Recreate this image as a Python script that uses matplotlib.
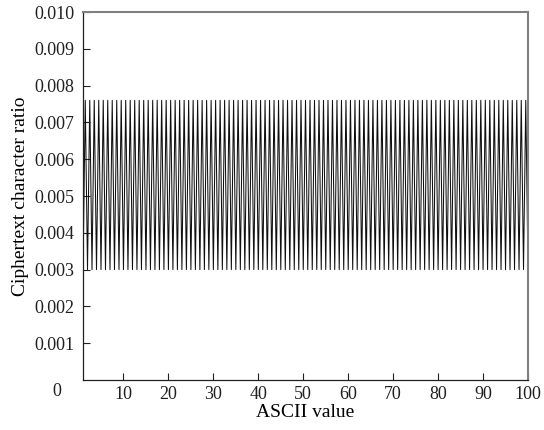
import numpy as np
import matplotlib.pyplot as plt
from matplotlib.ticker import FixedLocator, FormatStrFormatter

plt.rcParams['font.family'] = ['Liberation Serif', 'DejaVu Serif']

LOW = 0.0030
HIGH = 0.0076

# samples every half unit from 1 to 100, alternating low / high
ascii_vals = [1 + 0.5 * i for i in range(199)]
ratio = [
    LOW, HIGH, LOW, HIGH, LOW, HIGH, LOW, HIGH, LOW, HIGH, LOW, HIGH, LOW, HIGH, LOW, HIGH, LOW, HIGH, LOW, HIGH,
    LOW, HIGH, LOW, HIGH, LOW, HIGH, LOW, HIGH, LOW, HIGH, LOW, HIGH, LOW, HIGH, LOW, HIGH, LOW, HIGH, LOW, HIGH,
    LOW, HIGH, LOW, HIGH, LOW, HIGH, LOW, HIGH, LOW, HIGH, LOW, HIGH, LOW, HIGH, LOW, HIGH, LOW, HIGH, LOW, HIGH,
    LOW, HIGH, LOW, HIGH, LOW, HIGH, LOW, HIGH, LOW, HIGH, LOW, HIGH, LOW, HIGH, LOW, HIGH, LOW, HIGH, LOW, HIGH,
    LOW, HIGH, LOW, HIGH, LOW, HIGH, LOW, HIGH, LOW, HIGH, LOW, HIGH, LOW, HIGH, LOW, HIGH, LOW, HIGH, LOW, HIGH,
    LOW, HIGH, LOW, HIGH, LOW, HIGH, LOW, HIGH, LOW, HIGH, LOW, HIGH, LOW, HIGH, LOW, HIGH, LOW, HIGH, LOW, HIGH,
    LOW, HIGH, LOW, HIGH, LOW, HIGH, LOW, HIGH, LOW, HIGH, LOW, HIGH, LOW, HIGH, LOW, HIGH, LOW, HIGH, LOW, HIGH,
    LOW, HIGH, LOW, HIGH, LOW, HIGH, LOW, HIGH, LOW, HIGH, LOW, HIGH, LOW, HIGH, LOW, HIGH, LOW, HIGH, LOW, HIGH,
    LOW, HIGH, LOW, HIGH, LOW, HIGH, LOW, HIGH, LOW, HIGH, LOW, HIGH, LOW, HIGH, LOW, HIGH, LOW, HIGH, LOW, HIGH,
    LOW, HIGH, LOW, HIGH, LOW, HIGH, LOW, HIGH, LOW, HIGH, LOW, HIGH, LOW, HIGH, LOW, HIGH, LOW, HIGH, LOW,
]
xticks = [10, 20, 30, 40, 50, 60, 70, 80, 90, 100]
yticks = [0.001, 0.002, 0.003, 0.004, 0.005, 0.006, 0.007, 0.008, 0.009, 0.010]

fig = plt.figure(figsize=(5.44, 4.30), dpi=100)
ax = fig.add_axes([0.1526, 0.1163, 0.818, 0.8557])

ax.plot(ascii_vals, ratio, color='#101010', linewidth=0.75)

ax.set_xlim(1, 100)
ax.set_ylim(0, 0.010)
ax.xaxis.set_major_locator(FixedLocator(xticks))
ax.yaxis.set_major_locator(FixedLocator(yticks))
ax.yaxis.set_major_formatter(FormatStrFormatter('%.3f'))
ax.tick_params(direction='in', length=5, width=0.8, labelsize=13, colors='#202020')
ax.tick_params(axis='x', pad=4)
ax.tick_params(axis='y', pad=6)

for side in ['left', 'bottom']:
    ax.spines[side].set_color('#202020')
    ax.spines[side].set_linewidth(0.9)
for side in ['right', 'top']:
    ax.spines[side].set_color('#808080')
    ax.spines[side].set_linewidth(1.5)

ax.text(-0.06, -0.03, '0', transform=ax.transAxes, ha='center', va='center', fontsize=13, color='#202020')

ax.set_xlabel('ASCII value', fontsize=14, labelpad=1)
ax.set_ylabel('Ciphertext character ratio', fontsize=14, labelpad=4)

fig.savefig('out.png', dpi=100)
